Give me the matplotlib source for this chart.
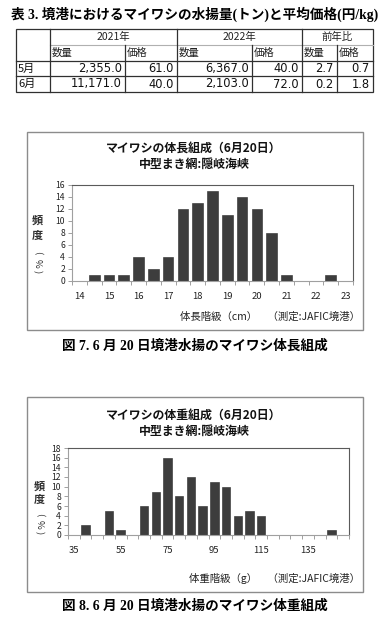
"""Sakaiminato maiwashi landings table and size histograms"""

import matplotlib
matplotlib.use("Agg")
import matplotlib.pyplot as plt
from matplotlib.patches import Rectangle

plt.rcParams["font.family"] = ["Noto Sans CJK JP", "DejaVu Sans"]

# table data
months = ["5月", "6月"]
catch_2021 = [2355.0, 11171.0]
price_2021 = [61.0, 40.0]
catch_2022 = [6367.0, 2103.0]
price_2022 = [40.0, 72.0]
ratio_catch = [2.7, 0.2]
ratio_price = [0.7, 1.8]

# length composition (cm classes, %)
length_classes = [14, 14.5, 15, 15.5, 16, 16.5, 17, 17.5, 18, 18.5,
                  19, 19.5, 20, 20.5, 21, 21.5, 22, 22.5, 23]
length_freq = [0, 1, 1, 1, 4, 2, 4, 12, 13, 15, 11, 14, 12, 8, 1, 0, 0, 1, 0]
length_labels = [14, 15, 16, 17, 18, 19, 20, 21, 22, 23]

# weight composition (g classes, %)
weight_classes = [35, 40, 45, 50, 55, 60, 65, 70, 75, 80, 85, 90,
                  95, 100, 105, 110, 115, 120, 125, 130, 135, 140, 145, 150]
weight_freq = [0, 2, 0, 5, 1, 0, 6, 9, 16, 8, 12, 6,
               11, 10, 4, 5, 4, 0, 0, 0, 0, 0, 1, 0]
weight_labels = [35, 55, 75, 95, 115, 135]

W, H = 390, 633
BAR = "#3d3d3d"
CAPTION_FONT = ["Liberation Serif", "Noto Sans CJK JP"]
NUM_FONT = ["DejaVu Sans", "Noto Sans CJK JP"]


def px_axes(fig, left, top, right, bottom):
    return fig.add_axes([left / W, 1 - bottom / H, (right - left) / W, (bottom - top) / H])


def draw_table(bg):
    cols = [16, 50, 125, 177, 252, 302, 337, 373]
    rows = [29, 45, 61, 76, 92]
    dark = dict(color="#303030", lw=0.9)
    # outer box and row lines
    bg.add_patch(Rectangle((cols[0], rows[0]), cols[-1] - cols[0], rows[-1] - rows[0],
                           fill=False, ec="#303030", lw=0.9))
    bg.plot([cols[1], cols[-1]], [rows[1], rows[1]], color="#b0b0b0", lw=0.8)
    for r in rows[2:4]:
        bg.plot([cols[0], cols[-1]], [r, r], **dark)
    for c in [cols[1], cols[3], cols[5]]:
        bg.plot([c, c], [rows[0], rows[-1]], **dark)
    for c in [cols[2], cols[4], cols[6]]:
        bg.plot([c, c], [rows[1], rows[-1]], **dark)

    ymid = [(rows[i] + rows[i + 1]) / 2 for i in range(4)]
    for (a, b), lab in zip([(1, 3), (3, 5), (5, 7)], ["2021年", "2022年", "前年比"]):
        bg.text((cols[a] + cols[b]) / 2, ymid[0], lab, ha="center", va="center",
                fontsize=7.5, color="#222222")
    for c, lab in zip(cols[1:7], ["数量", "価格"] * 3):
        bg.text(c + 2, ymid[1], lab, ha="left", va="center", fontsize=7.5, color="#222222")
    columns = [catch_2021, price_2021, catch_2022, price_2022, ratio_catch, ratio_price]
    for i, m in enumerate(months):
        y = ymid[2 + i]
        bg.text(cols[0] + 2, y, m, ha="left", va="center", fontsize=8, color="#111111")
        for j, vals in enumerate(columns):
            bg.text(cols[j + 2] - 3, y, f"{vals[i]:,.1f}", ha="right", va="center",
                    fontsize=8.3, family=NUM_FONT, color="#111111")


def draw_hist(fig, bg, box, area, classes, freq, labels, step, ymax, title_y,
              note_xy, xlabel, ylab_x, ylab_ys):
    x0, y0, x1, y1 = box
    bg.add_patch(Rectangle((x0, y0), x1 - x0, y1 - y0, fill=False, ec="#8c8c8c", lw=1.0))
    cx = (x0 + x1) / 2 - 1
    bg.text(cx, title_y, "マイワシの" + ("体長" if "cm" in xlabel else "体重") + "組成（6月20日）",
            ha="center", va="center", fontsize=8.6, fontweight="bold", color="#111111")
    bg.text(cx, title_y + 16.5, "中型まき網:隠岐海峡", ha="center", va="center",
            fontsize=8.6, fontweight="bold", color="#111111")
    bg.text(note_xy[0], note_xy[1], "測定:100尾", ha="center", va="center",
            fontsize=6.8, color="#222222")
    bg.text(x1 - 3, ylab_ys[5], xlabel, ha="right", va="center", fontsize=7.5, color="#222222")
    bg.text(ylab_x, ylab_ys[0], "頻", ha="center", va="center", fontsize=8,
            fontweight="bold", color="#333333")
    bg.text(ylab_x, ylab_ys[1], "度", ha="center", va="center", fontsize=8,
            fontweight="bold", color="#333333")
    for y, ch in zip(ylab_ys[2:5], ["(", "%", ")"]):
        bg.text(ylab_x, y, ch, ha="center", va="center", fontsize=6.8,
                rotation=270, color="#333333")

    ax = px_axes(fig, *area)
    ax.bar(classes, freq, width=step * 0.72, color=BAR, edgecolor="#2a2a2a", linewidth=0.4)
    ax.set_xlim(classes[0] - step / 2, classes[-1] + step / 2)
    ax.set_ylim(0, ymax)
    ax.set_yticks(range(0, ymax + 1, 2))
    ax.set_xticks(labels)
    ax.set_xticks([c - step / 2 for c in classes] + [classes[-1] + step / 2], minor=True)
    ax.tick_params(axis="x", which="major", length=0, pad=8, labelsize=6.8, colors="#222222")
    ax.tick_params(axis="x", which="minor", length=3, width=0.6, color="#909090")
    ax.tick_params(axis="y", length=3, width=0.6, color="#909090", pad=2,
                   labelsize=6.2, labelcolor="#222222")
    for s in ["top", "right"]:
        ax.spines[s].set_color("#5a5a5a")
        ax.spines[s].set_linewidth(0.8)
    for s in ["left", "bottom"]:
        ax.spines[s].set_color("#a0a0a0")
        ax.spines[s].set_linewidth(0.8)
    return ax


def main():
    fig = plt.figure(figsize=(W / 100, H / 100), dpi=100)
    bg = fig.add_axes([0, 0, 1, 1])
    bg.set_xlim(0, W)
    bg.set_ylim(H, 0)
    bg.axis("off")

    bg.text(W / 2, 14, "表 3. 境港におけるマイワシの水揚量(トン)と平均価格(円/kg)",
            ha="center", va="center", fontsize=9.8, fontweight="bold", family=CAPTION_FONT)
    draw_table(bg)

    draw_hist(fig, bg, (27, 132, 363, 330), (72, 185, 353, 281),
              length_classes, length_freq, length_labels, 0.5, 16, 148,
              (299, 203), "体長階級（cm）　（測定:JAFIC境港）",
              37, (220, 235, 253, 263, 272, 317))
    bg.text(W / 2, 346, "図 7. 6 月 20 日境港水揚のマイワシ体長組成", ha="center", va="center",
            fontsize=9.8, fontweight="bold", family=CAPTION_FONT)

    draw_hist(fig, bg, (27, 397, 363, 592), (68, 448, 349, 535),
              weight_classes, weight_freq, weight_labels, 5, 18, 415,
              (277, 472), "体重階級（g）　（測定:JAFIC境港）",
              39, (486, 499, 515, 524, 533, 578))
    bg.text(W / 2, 606, "図 8. 6 月 20 日境港水揚のマイワシ体重組成", ha="center", va="center",
            fontsize=9.8, fontweight="bold", family=CAPTION_FONT)

    fig.savefig("out.png", dpi=100)
    plt.close(fig)


if __name__ == "__main__":
    main()
